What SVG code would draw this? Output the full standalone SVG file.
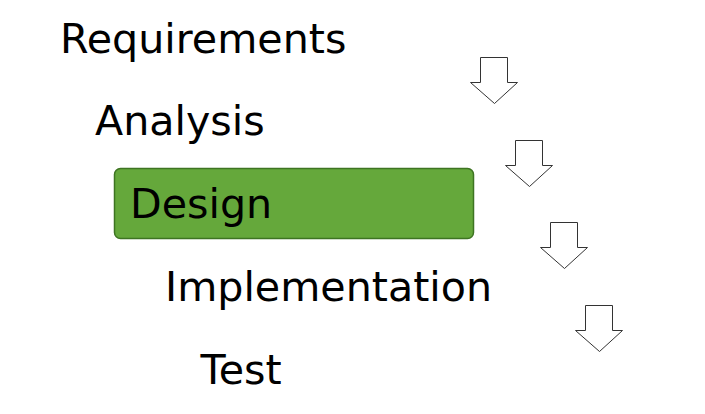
<svg xmlns="http://www.w3.org/2000/svg" width="705" height="414" viewBox="0 0 705 414">
<style>
.t{font-family:"DejaVu Sans",sans-serif;font-size:41.2px;fill:#000}
.arr{fill:#fff;stroke:#333;stroke-width:1}
</style>
<defs>
<path id="down" d="M0,0 H27 V25 H37 L14,46 L-10,25 H0 Z"/>
</defs>
<rect width="705" height="414" fill="#fff"/>
<g id="connectors">
<use href="#down" class="arr" transform="translate(480.5,57.5)"/>
<use href="#down" class="arr" transform="translate(515.5,140.5)"/>
<use href="#down" class="arr" transform="translate(550.5,222.5)"/>
<use href="#down" class="arr" transform="translate(585.5,305.5)"/>
</g>
<g id="requirements"><text class="t" x="60" y="53">Requirements</text></g>
<g id="analysis"><text class="t" x="95" y="135">Analysis</text></g>
<g id="design">
<rect x="114.5" y="168.5" width="359" height="70" rx="6" fill="#65a83b" stroke="#3e7422" stroke-width="1.5"/>
<text class="t" x="130" y="218">Design</text>
</g>
<g id="implementation"><text class="t" x="165" y="301">Implementation</text></g>
<g id="test"><text class="t" x="200.5" y="384">Test</text></g>
</svg>
